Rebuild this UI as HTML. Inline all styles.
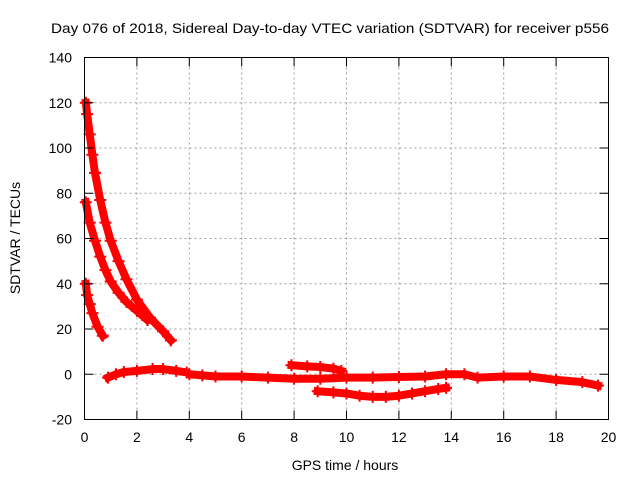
<!DOCTYPE html>
<html><head><meta charset="utf-8"><style>
html,body{margin:0;padding:0;background:#fff;}
svg{display:block;font-family:"Liberation Sans",sans-serif;}
</style></head><body>
<svg id="chart" width="640" height="480" xmlns="http://www.w3.org/2000/svg">
<rect width="640" height="480" fill="#fff"/>
<text x="330" y="33" font-size="14" text-anchor="middle" textLength="558" lengthAdjust="spacingAndGlyphs">Day 076 of 2018, Sidereal Day-to-day VTEC variation (SDTVAR) for receiver p556</text>
<g id="grid"></g>
<g id="series"></g>
<rect x="84.5" y="57.5" width="524" height="362" fill="none" stroke="#000" stroke-width="1"/>
<g id="ticks"></g>
<text x="345" y="470" font-size="14" text-anchor="middle">GPS time / hours</text>
<text transform="translate(20,238) rotate(-90)" font-size="14" text-anchor="middle">SDTVAR / TECUs</text>
</svg>
<script>
const xTicks = [0,2,4,6,8,10,12,14,16,18,20];
const yTicks = [-20,0,20,40,60,80,100,120,140];
const seriesA_t = [0.05,0.1,0.2,0.3,0.4,0.6,0.8,1.0,1.3,1.6,2.0,2.5,3.0,3.3];
const seriesA_v = [120,115,106,97,89,77,67,59,50,42,33,25,19,15];
const seriesB_t = [0.05,0.2,0.4,0.6,0.8,1.0,1.3,1.6,2.0,2.4];
const seriesB_v = [76,67,59,52,46,41,36,32,28,24];
const seriesC_t = [0.05,0.1,0.2,0.3,0.5,0.7];
const seriesC_v = [40,35,31,27,21,17];
const seriesD_t = [0.9,1.2,1.5,2.0,2.6,3.0,3.5,3.9,4.0,4.5,5,6,7,8,9,10,11,12,13,13.8,14.5,15,16,17,18,19,19.6];
const seriesD_v = [-1.5,0,1,1.5,2.3,2.3,1.5,0.8,0,-0.5,-1,-1,-1.5,-2,-2,-1.5,-1.5,-1.2,-1.0,0,0,-1.5,-1,-1,-2.5,-3.5,-5];
const seriesE_t = [7.9,8.5,9,9.5,9.8];
const seriesE_v = [4,3.5,3.2,2.5,1.5];
const seriesF_t = [8.9,9.5,10,10.5,11,11.5,12,12.5,13,13.5,13.8];
const seriesF_v = [-7.5,-8,-8.5,-9.5,-10,-10,-9.5,-8.5,-7.5,-6.5,-6];

const X0=84.5,X1=608.5,Y0=419.5,Y1=57.5;
const xs=t=>X0+(t-0)/(20-0)*(X1-X0);
const ys=v=>Y0-(v-(-20))/(140-(-20))*(Y0-Y1);
const NS="http://www.w3.org/2000/svg";
function mk(tag,attrs,parent){const e=document.createElementNS(NS,tag);for(const k in attrs)e.setAttribute(k,attrs[k]);parent.appendChild(e);return e;}
const grid=document.getElementById('grid'),ticks=document.getElementById('ticks'),ser=document.getElementById('series');
xTicks.forEach(t=>{const x=xs(t);
 if(t>0&&t<20){const g=mk('line',{x1:x,y1:Y0,x2:x,y2:Y1,stroke:'#a0a0a0','stroke-dasharray':'2,3'},grid);
 
 }
 mk('line',{x1:x,y1:Y0,x2:x,y2:Y0-9,stroke:'#000'},ticks);
 mk('line',{x1:x,y1:Y1,x2:x,y2:Y1+9,stroke:'#000'},ticks);
 const l=mk('text',{x:x,y:442,'font-size':14,'text-anchor':'middle'},ticks);l.textContent=t;
 
 
});
yTicks.forEach(v=>{const y=ys(v);
 if(v>-20&&v<140){const g=mk('line',{x1:X0,y1:y,x2:X1,y2:y,stroke:'#a0a0a0','stroke-dasharray':'2,3'},grid);
 
 }
 mk('line',{x1:X0,y1:y,x2:X0+9,y2:y,stroke:'#000'},ticks);
 mk('line',{x1:X1,y1:y,x2:X1-9,y2:y,stroke:'#000'},ticks);
 const l=mk('text',{x:72,y:y+5,'font-size':14,'text-anchor':'end'},ticks);l.textContent=v;
 
 
});
function draw(ts,vs,name){
 const pts=ts.map((t,i)=>xs(t)+','+ys(vs[i])).join(' ');
 const pl=mk('polyline',{points:pts,fill:'none',stroke:'#ff0000','stroke-width':8,'stroke-linejoin':'round','stroke-linecap':'square'},ser);
 
 
 ts.forEach((t,i)=>{const x=xs(t),y=ys(vs[i]);
  const p=mk('path',{d:`M${x-6},${y}H${x+6}M${x},${y-6}V${y+6}`,stroke:'#ff0000','stroke-width':2},ser);
  
  
 });
}
draw(seriesA_t,seriesA_v,'series-a');
draw(seriesB_t,seriesB_v,'series-b');
draw(seriesC_t,seriesC_v,'series-c');
draw(seriesD_t,seriesD_v,'series-d');
draw(seriesE_t,seriesE_v,'series-e');
draw(seriesF_t,seriesF_v,'series-f');
</script>
</body></html>
